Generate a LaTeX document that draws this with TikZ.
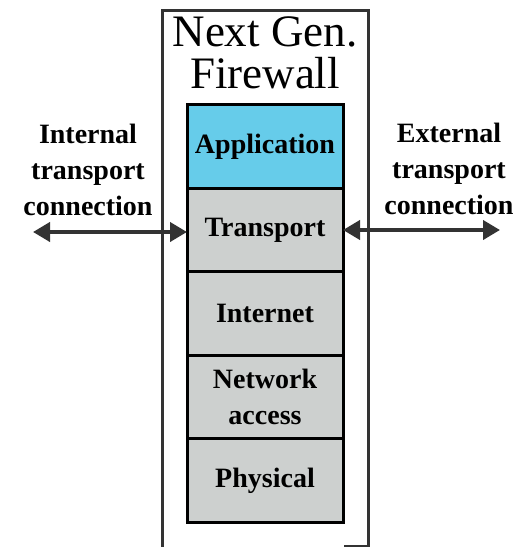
\documentclass[tikz,border=0pt]{standalone}
\usepackage{fontspec}
\setmainfont{Liberation Serif}
\usetikzlibrary{positioning, arrows.meta}
\definecolor{app_blue}{HTML}{66CCEA}
\definecolor{layer_gray}{HTML}{CDD0CF}
\definecolor{frame_gray}{HTML}{333333}
\tikzset{
  layer_font/.style = {font=\fontsize{28}{36}\selectfont\bfseries},
  title_font/.style = {font=\fontsize{45}{42}\selectfont},
  layer_size/.style = {minimum width=156, minimum height=83.5}
}
\tikzset{
  layer/.style = {layer_font, layer_size, draw=black, line width=3, fill=layer_gray, align=center, outer sep=0, inner sep=0},
  top_layer/.style = {layer, fill=app_blue},
  side_label/.style = {layer_font, align=center},
  link/.style = {draw=frame_gray, line width=4, {Triangle[length=17pt, width=19pt]}-{Triangle[length=17pt, width=19pt]}},
  frame/.style = {draw=frame_gray, line width=3}
}
\begin{document}
\begin{tikzpicture}[x=1pt, y=-1pt, node distance=0]
        \useasboundingbox (0,0) rectangle (526,547);

        % Layers
        \node[top_layer] (app) at (265,146.5) {Application};
        \node[layer, below=of app] (trans) {Transport};
        \node[layer, below=of trans] (inet) {Internet};
        \node[layer, below=of inet] (net) {Network\\access};
        \node[layer, below=of net] (phys) {Physical};

        % Title and side labels
        \node[title_font, align=center] (title) at (265,53) {Next Gen.\\Firewall};
        \node[side_label] (in_label) at (88,170) {Internal\\transport\\connection};
        \node[side_label] (out_label) at (449,169) {External\\transport\\connection};

        % Frame
        \draw[frame] (344,546) -- (368,546) -- (368,10) -- (162,10) -- (162,547);

        % Arrows
        \coordinate (in_end) at (33,232);
        \coordinate (out_end) at (500,230);
        \draw[link] (in_end) -- (in_end -| trans.west);
        \draw[link] (trans.east |- out_end) -- (out_end);
\end{tikzpicture}
\end{document}
